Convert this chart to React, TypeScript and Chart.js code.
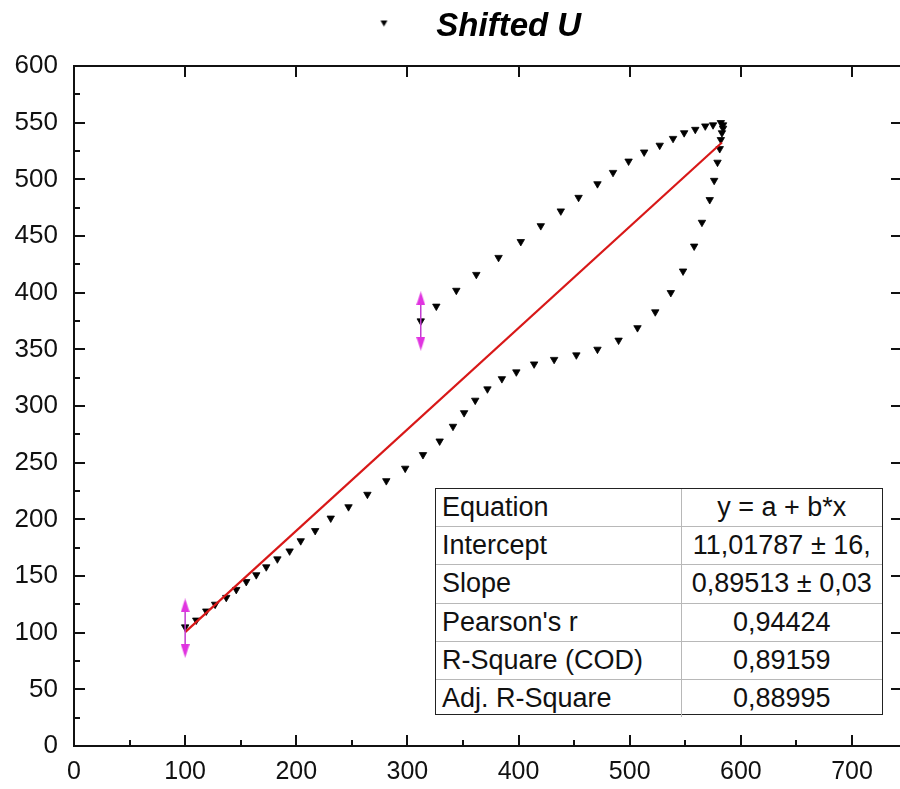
import { useEffect, useRef } from 'react';
import { Chart, registerables } from 'chart.js';

Chart.register(...registerables);

// ---------- data ----------
const seriesLabel = 'Shifted U';

const uX = [100, 110, 119, 127, 137, 146, 155, 164, 173, 183, 194, 204, 217, 231, 247, 264, 281, 298, 314, 329,
  341, 351, 361, 372, 385, 398, 414, 432, 452, 471, 490, 507, 523, 537, 548, 558, 565, 572, 576, 579,
  581, 582, 583, 584, 584, 582, 575, 568, 559, 549, 539, 527, 513, 499, 485, 471, 454, 438, 420, 402,
  382, 362, 344, 326, 312];
const uY = [105, 111, 119, 125, 131, 138, 145, 151, 158, 165, 172, 181, 190, 201, 211, 222, 234, 245, 257, 269,
  282, 294, 305, 315, 324, 330, 337, 341, 345, 350, 358, 369, 383, 400, 419, 441, 462, 482, 499, 515,
  527, 535, 541, 545, 548, 550, 548, 547, 544, 541, 536, 530, 524, 516, 506, 496, 484, 472, 459, 445,
  431, 416, 402, 388, 375];

const fitX = [100, 583];
const fitY = [100.5, 532.5];

// magenta cursor arrows (arrowhead centres)
const cursorStartX = [100, 100];
const cursorStartY = [124, 84];
const cursorEndX = [312, 312];
const cursorEndY = [395, 355];

const xMin = 0;
const xMax = 745;
const xStep = 100;
const yMin = 0;
const yMax = 600;
const yStep = 50;

const tableNames = ['Equation', 'Intercept', 'Slope', "Pearson's r", 'R-Square (COD)', 'Adj. R-Square'];
const tableValues = ['y = a + b*x', '11,01787 ± 16,', '0,89513 ± 0,03', '0,94424', '0,89159', '0,88995'];

const FONT = "'Liberation Sans', Arial, sans-serif";
const INK = '#111111';
const MAGENTA = '#e033e0';

function pts(xs: number[], ys: number[]) {
  return xs.map((x, i) => ({ x, y: ys[i] }));
}

const noPadH = (s: any) => { s.paddingLeft = 0; s.paddingRight = 0; };
const noPadV = (s: any) => { s.paddingTop = 0; s.paddingBottom = 0; };

export default function App() {
  const ref = useRef<HTMLCanvasElement | null>(null);

  useEffect(() => {
    const mk = (w: number, h: number, draw: (g: CanvasRenderingContext2D) => void) => {
      const c = document.createElement('canvas');
      c.width = w;
      c.height = h;
      const g = c.getContext('2d')!;
      draw(g);
      return c;
    };
    const legendMarker = mk(40, 20, (g) => {
      g.fillStyle = '#000';
      g.beginPath();
      g.moveTo(30.1, 4);
      g.lineTo(37.1, 4);
      g.lineTo(33.6, 10);
      g.closePath();
      g.fill();
    });
    const arrowUp = mk(9, 14, (g) => {
      g.fillStyle = MAGENTA;
      g.beginPath();
      g.moveTo(4.5, 0);
      g.lineTo(9, 14);
      g.lineTo(0, 14);
      g.closePath();
      g.fill();
    });
    const arrowDown = mk(9, 14, (g) => {
      g.fillStyle = MAGENTA;
      g.beginPath();
      g.moveTo(0, 0);
      g.lineTo(9, 0);
      g.lineTo(4.5, 14);
      g.closePath();
      g.fill();
    });

    Chart.defaults.font.family = FONT;

    const tickGrid = (len: number) => ({
      drawOnChartArea: false,
      drawTicks: true,
      tickLength: len,
      lineWidth: 2,
      color: INK,
    });

    const chart = new Chart(ref.current!, {
      type: 'scatter',
      data: {
        datasets: [
          {
            label: seriesLabel,
            data: pts(uX, uY),
            order: 3,
            pointStyle: 'triangle',
            pointRotation: 180,
            pointRadius: 4.3,
            pointBorderWidth: 0.8,
            backgroundColor: '#000',
            borderColor: '#000',
            showLine: false,
          },
          {
            label: 'Linear Fit',
            data: pts(fitX, fitY),
            order: 2,
            showLine: true,
            pointRadius: 0,
            borderColor: '#d81818',
            borderWidth: 2.2,
          },
          {
            label: 'cursor start',
            data: pts(cursorStartX, cursorStartY),
            order: 1,
            showLine: true,
            borderColor: '#c23cd0',
            borderWidth: 1.5,
            pointRadius: 5,
            pointStyle: [arrowUp, arrowDown] as any,
          },
          {
            label: 'cursor end',
            data: pts(cursorEndX, cursorEndY),
            order: 1,
            showLine: true,
            borderColor: '#c23cd0',
            borderWidth: 1.5,
            pointRadius: 5,
            pointStyle: [arrowUp, arrowDown] as any,
          },
        ],
      },
      options: {
        animation: false,
        responsive: true,
        maintainAspectRatio: false,
        layout: { autoPadding: false, padding: { left: 0, right: 2, top: 0, bottom: 0 } },
        plugins: {
          tooltip: { enabled: false },
          title: { display: false },
          legend: {
            display: true,
            position: 'top',
            align: 'center',
            labels: {
              usePointStyle: true,
              pointStyleWidth: 99,
              color: '#000',
              padding: 10,
              font: { family: FONT, size: 33, weight: 'bold', style: 'italic' },
              generateLabels: () => [
                {
                  text: seriesLabel,
                  fillStyle: '#000',
                  strokeStyle: '#000',
                  lineWidth: 0,
                  pointStyle: legendMarker as any,
                  rotation: 0,
                  hidden: false,
                  datasetIndex: 0,
                  fontColor: '#000',
                } as any,
              ],
            },
          },
        },
        scales: {
          x: {
            type: 'linear',
            position: 'bottom',
            weight: 1,
            min: xMin,
            max: xMax,
            afterFit: (s: any) => { s.height = 43; noPadH(s); },
            ticks: {
              stepSize: xStep,
              includeBounds: false,
              autoSkip: false,
              maxRotation: 0,
              padding: 22,
              color: INK,
              font: { family: FONT, size: 25 },
            },
            grid: tickGrid(-11),
            border: { display: true, color: INK, width: 2 },
          },
          xMinor: {
            type: 'linear',
            position: 'bottom',
            weight: 0,
            min: xMin,
            max: xMax,
            afterBuildTicks: (s: any) => { s.ticks = s.ticks.filter((t: any) => t.value % xStep !== 0); },
            afterFit: (s: any) => { s.height = 0; noPadH(s); },
            ticks: { stepSize: xStep / 2, includeBounds: false, display: false },
            grid: tickGrid(-6),
            border: { display: false },
          },
          xTop: {
            type: 'linear',
            position: 'top',
            weight: 0,
            min: xMin,
            max: xMax,
            afterFit: (s: any) => {
              const lg = s.chart.legend;
              s.height = Math.max(0, 66 - (lg ? lg.height : 53));
              noPadH(s);
            },
            ticks: { stepSize: xStep, includeBounds: false, display: false },
            grid: tickGrid(-11),
            border: { display: true, color: INK, width: 2 },
          },
          y: {
            type: 'linear',
            position: 'left',
            weight: 1,
            min: yMin,
            max: yMax,
            afterFit: (s: any) => { s.width = 74; noPadV(s); },
            ticks: {
              stepSize: yStep,
              includeBounds: false,
              autoSkip: false,
              padding: 27,
              color: INK,
              font: { family: FONT, size: 26 },
            },
            grid: tickGrid(-11),
            border: { display: true, color: INK, width: 2 },
          },
          yMinor: {
            type: 'linear',
            position: 'left',
            weight: 0,
            min: yMin,
            max: yMax,
            afterBuildTicks: (s: any) => { s.ticks = s.ticks.filter((t: any) => t.value % yStep !== 0); },
            afterFit: (s: any) => { s.width = 0; noPadV(s); },
            ticks: { stepSize: yStep / 2, includeBounds: false, display: false },
            grid: tickGrid(-6),
            border: { display: false },
          },
          yRight: {
            type: 'linear',
            position: 'right',
            weight: 0,
            min: yMin,
            max: yMax,
            afterFit: (s: any) => { s.width = 0; noPadV(s); },
            ticks: { stepSize: yStep, includeBounds: false, display: false },
            grid: tickGrid(-11),
            border: { display: true, color: INK, width: 2 },
          },
        },
      } as any,
    });

    return () => chart.destroy();
  }, []);

  const rowH = 37.2;
  const cellBase: any = {
    height: rowH,
    padding: 0,
    lineHeight: 1,
    whiteSpace: 'nowrap',
    overflow: 'hidden',
    verticalAlign: 'middle',
  };

  return (
    <div style={{ position: 'absolute', left: 0, top: 0, width: 900, height: 789, background: '#fff', overflow: 'hidden' }}>
      <div style={{ position: 'absolute', left: 0, top: 0, width: 904, height: 789 }}>
        <canvas ref={ref} />
      </div>
      <div
        style={{
          position: 'absolute',
          left: 435,
          top: 488,
          width: 448,
          height: 227,
          boxSizing: 'border-box',
          border: '1.5px solid #222',
          background: '#fff',
        }}
      >
        <table
          style={{
            borderCollapse: 'collapse',
            width: '100%',
            tableLayout: 'fixed',
            fontFamily: FONT,
            fontSize: 27,
            color: INK,
          }}
        >
          <colgroup>
            <col style={{ width: 245 }} />
            <col />
          </colgroup>
          <tbody>
            {tableNames.map((name, i) => (
              <tr key={name}>
                <td
                  style={{
                    ...cellBase,
                    paddingLeft: 6,
                    borderTop: i ? '1px solid #b8b8b8' : 'none',
                    borderRight: '1px solid #b8b8b8',
                  }}
                >
                  {name}
                </td>
                <td
                  style={{
                    ...cellBase,
                    textAlign: 'center',
                    borderTop: i ? '1px solid #b8b8b8' : 'none',
                  }}
                >
                  {tableValues[i]}
                </td>
              </tr>
            ))}
          </tbody>
        </table>
      </div>
    </div>
  );
}
